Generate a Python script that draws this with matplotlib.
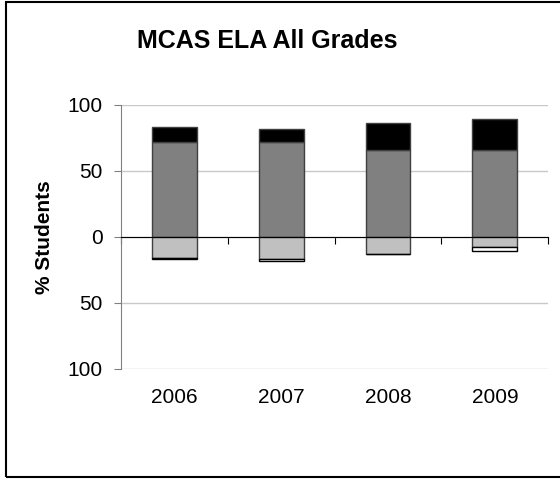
import matplotlib.pyplot as plt
import matplotlib.patches as patches
import numpy as np

plt.rcParams['font.family'] = ['Liberation Sans', 'DejaVu Sans']

# -------- data ----------
years = ["2006", "2007", "2008", "2009"]
proficient = [72, 72, 66, 66]        # mid grey, above zero
advanced = [11, 10, 20, 23]          # black, on top
needs_improvement = [16, 17, 13, 8]  # light grey, below zero
warning = [1, 1.5, 0, 3]             # white, bottom

y_ticks = [-100, -50, 0, 50, 100]
y_tick_labels = ["100", "50", "0", "50", "100"]

# -------- plot ----------
fig = plt.figure(figsize=(5.6, 4.79), dpi=100)
ax = fig.add_axes([0.216, 0.230, 0.763, 0.551])

x = np.arange(len(years))
w = 0.42
edge = "#404040"

ax.bar(x, proficient, w, color="#808080", edgecolor=edge, linewidth=1, zorder=3)
ax.bar(x, advanced, w, bottom=proficient, color="black", edgecolor=edge, linewidth=1, zorder=3)
neg = [-v for v in needs_improvement]
ax.bar(x, neg, w, color="#c0c0c0", edgecolor=edge, linewidth=1, zorder=3)
ax.bar(x, [-v for v in warning], w, bottom=neg, color="white", edgecolor="black", linewidth=1, zorder=3)

ax.set_xlim(-0.5, len(years) - 0.5)
ax.set_ylim(-100, 100)
ax.set_yticks(y_ticks)
ax.set_yticklabels(y_tick_labels, fontsize=15)
ax.yaxis.grid(True, color="#c8c8c8", linewidth=1, zorder=0)
ax.tick_params(axis="y", direction="out", length=5, color="#808080", pad=8)

# x axis sits at zero, tick marks between categories
ax.spines["bottom"].set_position(("data", 0))
ax.spines["bottom"].set_zorder(4)
ax.spines["top"].set_visible(False)
ax.spines["right"].set_visible(False)
ax.spines["left"].set_color("#808080")
ax.set_xticks(np.arange(len(years) + 1) - 0.5)
ax.set_xticklabels([])
ax.tick_params(axis="x", direction="out", length=5, color="black")

for i, yr in enumerate(years):
    ax.text(i, -0.11, yr, transform=ax.get_xaxis_transform(),
            ha="center", va="center", fontsize=15)

ax.set_ylabel("% Students", fontsize=15, fontweight="bold", labelpad=10)
fig.text(0.477, 0.915, "MCAS ELA All Grades", ha="center", va="center",
         fontsize=18, fontweight="bold")

# chart border
fig.patches.append(patches.Rectangle((6 / 560, 2 / 479), 1.2, 475 / 479,
                                     transform=fig.transFigure, fill=False,
                                     edgecolor="black", linewidth=1.5))

fig.savefig("out.png", dpi=100)
